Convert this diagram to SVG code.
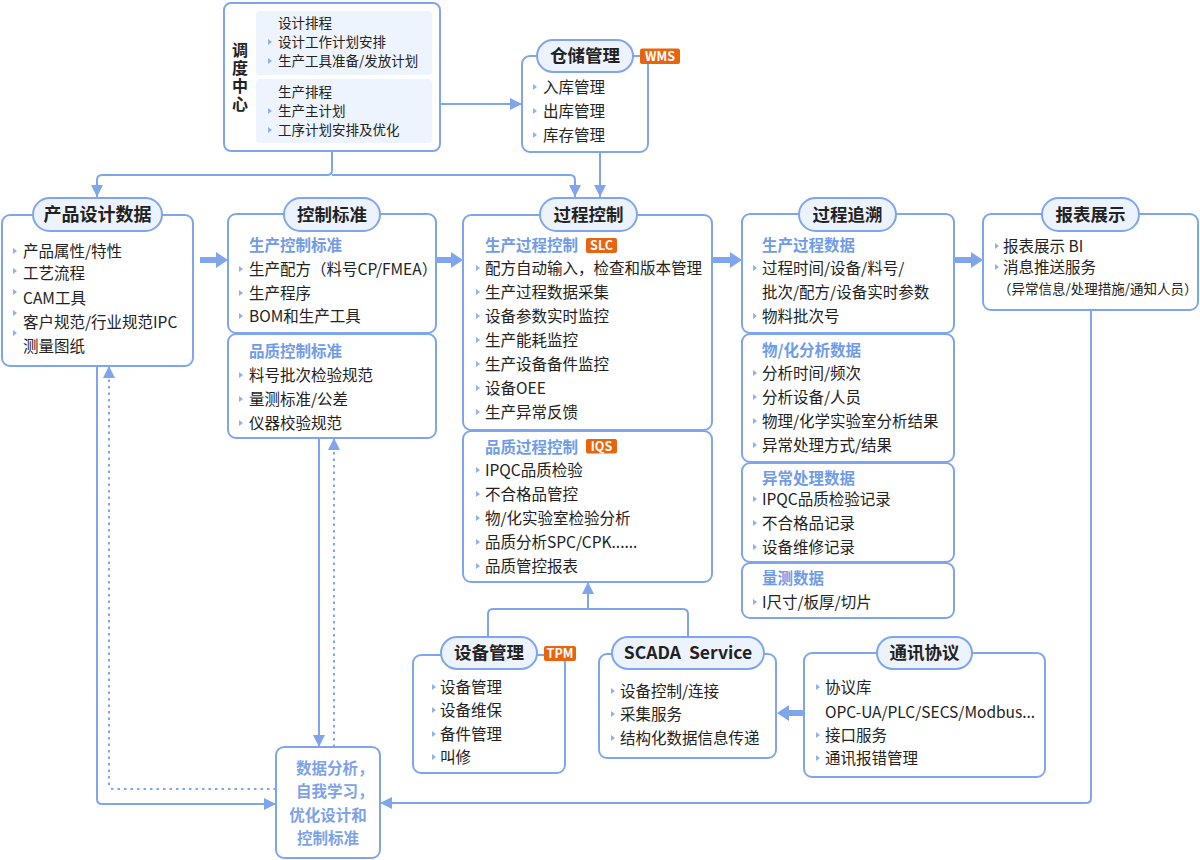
<svg xmlns="http://www.w3.org/2000/svg" xmlns:xlink="http://www.w3.org/1999/xlink" width="1200" height="860" viewBox="0 0 1200 860">
<style>
text{font-family:"Noto Sans CJK SC","Noto Sans",sans-serif;fill:#222}
.box{fill:#fff;stroke:#7fa6ed;stroke-width:2}
.pill{fill:#edf3fd;stroke:#7fa6ed;stroke-width:2}
.panel{fill:#eef4fd}
.h{font-size:17.5px;font-weight:700;text-anchor:middle}
.t{font-size:15.5px}
.sm{font-size:13.5px}
.s{font-size:15.5px;font-weight:700;fill:#6f9be9}
.badge{fill:#e8640e}
.bt{font-size:12.5px;font-weight:700;fill:#fff;text-anchor:middle}
.ln{fill:none;stroke:#7fa6ed;stroke-width:2}
.dot{fill:none;stroke:#7fa6ed;stroke-width:2;stroke-dasharray:2.5 4}
.thick{fill:none;stroke:#7fa6ed;stroke-width:6}
.head{fill:#7fa6ed}
.da{font-size:15.5px;font-weight:700;fill:#7ea2ea}
.vt{font-size:16px;font-weight:700;writing-mode:vertical-rl;letter-spacing:2px}
</style>
<defs>
<path id="bl" d="M0,-3 L4,0 L0,3 Z" fill="#8fb1ee"/>
<marker id="ah" viewBox="0 0 12 12" refX="12" refY="6" markerWidth="12" markerHeight="12" markerUnits="userSpaceOnUse" orient="auto"><path d="M0,0 L12,6 L0,12 Z" fill="#7fa6ed"/></marker>
</defs>

<g id="connectors">
<path class="ln" d="M440,104 H522" marker-end="url(#ah)"/>
<path class="ln" d="M332,151 V170 Q332,175 327,175 H102 Q97,175 97,180 V197" marker-end="url(#ah)"/>
<path class="ln" d="M332,175 H570 Q575,175 575,180 V197" marker-end="url(#ah)"/>
<path class="ln" d="M600,152 V197" marker-end="url(#ah)"/>
<path class="thick" d="M200,260 H217"/><path class="head" d="M216,252 L228,260 L216,268 Z"/>
<path class="thick" d="M437,260 H452"/><path class="head" d="M451,252 L463,260 L451,268 Z"/>
<path class="thick" d="M712,260 H731"/><path class="head" d="M730,252 L742,260 L730,268 Z"/>
<path class="thick" d="M954,260 H972"/><path class="head" d="M971,252 L983,260 L971,268 Z"/>
<path class="thick" d="M804,713 H788"/><path class="head" d="M789,705 L777,713 L789,721 Z"/>
<path class="ln" d="M488,637 V614 Q488,609 493,609 H683 Q688,609 688,614 V637"/>
<path class="ln" d="M588,609 V582" marker-end="url(#ah)"/>
<path class="ln" d="M1091,310 V798 Q1091,803 1086,803 H380" marker-end="url(#ah)"/>
<path class="ln" d="M97,366 V799 Q97,804 102,804 H276" marker-end="url(#ah)"/>
<path class="dot" d="M276,789 H114 Q109,789 109,784 V366" marker-end="url(#ah)"/>
<path class="ln" d="M319,438 V747" marker-end="url(#ah)"/>
<path class="dot" d="M334,747 V438" marker-end="url(#ah)"/>
</g>

<g id="dispatch">
<rect class="box" x="224" y="3" width="216" height="148" rx="7"/>
<rect class="panel" x="256" y="11" width="176" height="64" rx="4"/>
<rect class="panel" x="256" y="79" width="176" height="64" rx="4"/>
<text class="vt" x="240" y="42">调度中心</text>
<text class="sm" x="278" y="28">设计排程</text>
<use xlink:href="#bl" x="268" y="42"/><text class="sm" x="278" y="47">设计工作计划安排</text>
<use xlink:href="#bl" x="268" y="61"/><text class="sm" x="278" y="66">生产工具准备/发放计划</text>
<text class="sm" x="278" y="97">生产排程</text>
<use xlink:href="#bl" x="268" y="111"/><text class="sm" x="278" y="116">生产主计划</text>
<use xlink:href="#bl" x="268" y="130"/><text class="sm" x="278" y="135">工序计划安排及优化</text>
</g>

<g id="warehouse">
<rect class="box" x="522" y="56" width="126" height="96" rx="8"/>
<rect class="pill" x="537" y="40" width="96" height="32" rx="16"/>
<text class="h" x="585" y="62">仓储管理</text>
<rect class="badge" x="640" y="48.5" width="40" height="15.5" rx="2"/>
<text class="bt" x="660" y="60.8">WMS</text>
<use xlink:href="#bl" x="533" y="87"/><text class="t" x="543" y="92.6">入库管理</text>
<use xlink:href="#bl" x="533" y="111"/><text class="t" x="543" y="116.6">出库管理</text>
<use xlink:href="#bl" x="533" y="135"/><text class="t" x="543" y="140.6">库存管理</text>
</g>

<g id="product">
<rect class="box" x="2" y="215" width="191" height="151" rx="8"/>
<rect class="pill" x="33" y="198" width="129" height="33" rx="16.5"/>
<text class="h" x="97.5" y="221" style="font-size:18px">产品设计数据</text>
<use xlink:href="#bl" x="13" y="251"/><text class="t" x="23" y="256.6">产品属性/特性</text>
<use xlink:href="#bl" x="13" y="271"/><text class="t" x="23" y="279">工艺流程</text>
<use xlink:href="#bl" x="13" y="292"/><text class="t" x="23" y="303.6">CAM工具</text>
<use xlink:href="#bl" x="13" y="313"/><text class="t" x="23" y="327.6">客户规范/行业规范IPC</text>
<use xlink:href="#bl" x="13" y="333"/><text class="t" x="23" y="351.6">测量图纸</text>
</g>

<g id="standard">
<rect class="box" x="228" y="214" width="208" height="119" rx="8"/>
<rect class="box" x="228" y="334" width="208" height="104" rx="8"/>
<rect class="pill" x="284" y="198" width="96" height="33" rx="16.5"/>
<text class="h" x="332" y="221">控制标准</text>
<text class="s" x="249" y="250.6">生产控制标准</text>
<use xlink:href="#bl" x="239" y="269"/><text class="t" x="249" y="274.6">生产配方（料号CP/FMEA）</text>
<use xlink:href="#bl" x="239" y="293"/><text class="t" x="249" y="298.6">生产程序</text>
<use xlink:href="#bl" x="239" y="316"/><text class="t" x="249" y="321.6">BOM和生产工具</text>
<text class="s" x="249" y="356.6">品质控制标准</text>
<use xlink:href="#bl" x="239" y="375"/><text class="t" x="249" y="380.6">料号批次检验规范</text>
<use xlink:href="#bl" x="239" y="399"/><text class="t" x="249" y="404.6">量测标准/公差</text>
<use xlink:href="#bl" x="239" y="423"/><text class="t" x="249" y="428.6">仪器校验规范</text>
</g>

<g id="process">
<rect class="box" x="463" y="215" width="249" height="215" rx="8"/>
<rect class="box" x="463" y="431" width="249" height="151" rx="8"/>
<rect class="pill" x="540" y="198" width="97" height="33" rx="16.5"/>
<text class="h" x="588.5" y="221">过程控制</text>
<text class="s" x="485" y="250.6">生产过程控制</text>
<rect class="badge" x="586" y="238" width="31" height="15" rx="2"/>
<text class="bt" x="601.5" y="250">SLC</text>
<use xlink:href="#bl" x="476" y="268"/><text class="t" x="485" y="273.6">配方自动输入，检查和版本管理</text>
<use xlink:href="#bl" x="476" y="292"/><text class="t" x="485" y="297.6">生产过程数据采集</text>
<use xlink:href="#bl" x="476" y="316"/><text class="t" x="485" y="321.6">设备参数实时监控</text>
<use xlink:href="#bl" x="476" y="340"/><text class="t" x="485" y="345.6">生产能耗监控</text>
<use xlink:href="#bl" x="476" y="364"/><text class="t" x="485" y="369.6">生产设备备件监控</text>
<use xlink:href="#bl" x="476" y="388"/><text class="t" x="485" y="393.6">设备OEE</text>
<use xlink:href="#bl" x="476" y="412"/><text class="t" x="485" y="417.6">生产异常反馈</text>
<text class="s" x="485" y="452.6">品质过程控制</text>
<rect class="badge" x="586" y="439" width="31" height="14.5" rx="2"/>
<text class="bt" x="601.5" y="450.8">IQS</text>
<use xlink:href="#bl" x="476" y="470"/><text class="t" x="485" y="475.6">IPQC品质检验</text>
<use xlink:href="#bl" x="476" y="494"/><text class="t" x="485" y="499.6">不合格品管控</text>
<use xlink:href="#bl" x="476" y="518"/><text class="t" x="485" y="523.6">物/化实验室检验分析</text>
<use xlink:href="#bl" x="476" y="542"/><text class="t" x="485" y="547.6">品质分析SPC/CPK......</text>
<use xlink:href="#bl" x="476" y="566"/><text class="t" x="485" y="571.6">品质管控报表</text>
</g>

<g id="trace">
<rect class="box" x="742" y="214" width="212" height="119" rx="8"/>
<rect class="box" x="742" y="334" width="212" height="128" rx="8"/>
<rect class="box" x="742" y="463" width="212" height="99" rx="8"/>
<rect class="box" x="742" y="563" width="212" height="55" rx="8"/>
<rect class="pill" x="799" y="198" width="97" height="33" rx="16.5"/>
<text class="h" x="847.5" y="221">过程追溯</text>
<text class="s" x="762" y="250.6">生产过程数据</text>
<use xlink:href="#bl" x="753" y="268"/><text class="t" x="762" y="273.6">过程时间/设备/料号/</text>
<text class="t" x="762" y="297.6">批次/配方/设备实时参数</text>
<use xlink:href="#bl" x="753" y="316"/><text class="t" x="762" y="321.6">物料批次号</text>
<text class="s" x="762" y="355.6">物/化分析数据</text>
<use xlink:href="#bl" x="753" y="373"/><text class="t" x="762" y="378.6">分析时间/频次</text>
<use xlink:href="#bl" x="753" y="397"/><text class="t" x="762" y="402.6">分析设备/人员</text>
<use xlink:href="#bl" x="753" y="421"/><text class="t" x="762" y="426.6">物理/化学实验室分析结果</text>
<use xlink:href="#bl" x="753" y="445"/><text class="t" x="762" y="450.6">异常处理方式/结果</text>
<text class="s" x="762" y="483.6">异常处理数据</text>
<use xlink:href="#bl" x="753" y="499"/><text class="t" x="762" y="504.6">IPQC品质检验记录</text>
<use xlink:href="#bl" x="753" y="523"/><text class="t" x="762" y="528.6">不合格品记录</text>
<use xlink:href="#bl" x="753" y="547"/><text class="t" x="762" y="552.6">设备维修记录</text>
<text class="s" x="762" y="583.6">量测数据</text>
<use xlink:href="#bl" x="753" y="602"/><text class="t" x="762" y="607.6">I尺寸/板厚/切片</text>
</g>

<g id="report">
<rect class="box" x="983" y="214" width="215" height="96" rx="8"/>
<rect class="pill" x="1042" y="198" width="97" height="33" rx="16.5"/>
<text class="h" x="1090.5" y="221">报表展示</text>
<use xlink:href="#bl" x="995" y="246"/><text class="t" x="1003" y="251.6">报表展示 BI</text>
<use xlink:href="#bl" x="995" y="267"/><text class="t" x="1003" y="272.6">消息推送服务</text>
<text class="sm" x="998" y="294">（异常信息/处理措施/通知人员）</text>
</g>

<g id="equipment">
<rect class="box" x="413" y="655" width="152" height="118" rx="8"/>
<rect class="pill" x="441" y="637" width="96" height="32" rx="16"/>
<text class="h" x="489" y="659">设备管理</text>
<rect class="badge" x="544" y="646" width="32" height="15" rx="2"/>
<text class="bt" x="560" y="658">TPM</text>
<use xlink:href="#bl" x="432" y="687"/><text class="t" x="440" y="692.6">设备管理</text>
<use xlink:href="#bl" x="432" y="710"/><text class="t" x="440" y="715.6">设备维保</text>
<use xlink:href="#bl" x="432" y="734"/><text class="t" x="440" y="739.6">备件管理</text>
<use xlink:href="#bl" x="432" y="757"/><text class="t" x="440" y="762.6">叫修</text>
</g>

<g id="scada">
<rect class="box" x="599" y="654" width="177" height="104" rx="8"/>
<rect class="pill" x="612" y="637" width="152" height="32" rx="16"/>
<text class="h" x="688" y="659" word-spacing="4">SCADA Service</text>
<use xlink:href="#bl" x="611" y="691"/><text class="t" x="620" y="696.6">设备控制/连接</text>
<use xlink:href="#bl" x="611" y="714"/><text class="t" x="620" y="719.6">采集服务</text>
<use xlink:href="#bl" x="611" y="738"/><text class="t" x="620" y="743.6">结构化数据信息传递</text>
</g>

<g id="protocol">
<rect class="box" x="804" y="653" width="241" height="124" rx="8"/>
<rect class="pill" x="877" y="637" width="95" height="32" rx="16"/>
<text class="h" x="924.5" y="659">通讯协议</text>
<use xlink:href="#bl" x="816" y="687"/><text class="t" x="825" y="692.6">协议库</text>
<text class="t" x="825" y="717.6">OPC-UA/PLC/SECS/Modbus...</text>
<use xlink:href="#bl" x="816" y="735"/><text class="t" x="825" y="740.6">接口服务</text>
<use xlink:href="#bl" x="816" y="758"/><text class="t" x="825" y="763.6">通讯报错管理</text>
</g>

<g id="analysis">
<rect class="box" x="276" y="747" width="104" height="111" rx="8"/>
<text class="da" x="296" y="773.6">数据分析，</text>
<text class="da" x="296" y="796.6">自我学习，</text>
<text class="da" x="328" y="820.6" text-anchor="middle">优化设计和</text>
<text class="da" x="328" y="843.6" text-anchor="middle">控制标准</text>
</g>
</svg>
